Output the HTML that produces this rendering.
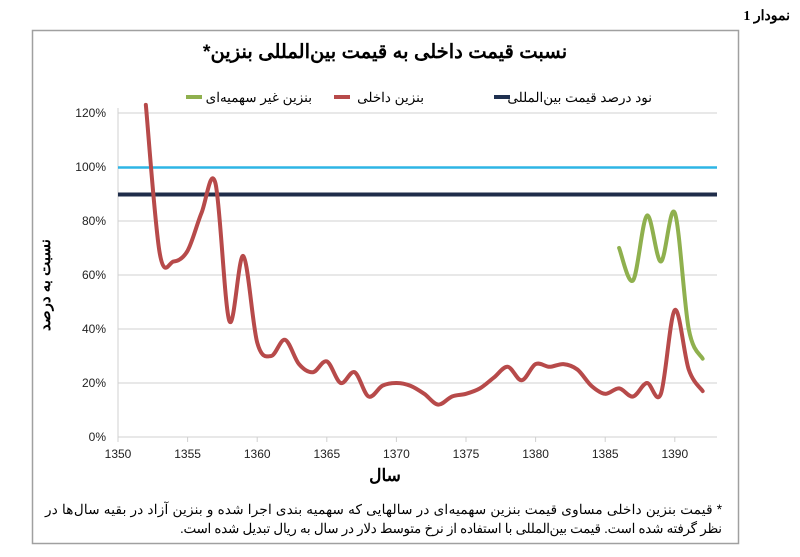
<!DOCTYPE html>
<html><head><meta charset="utf-8"><style>
body{margin:0;background:#fff;width:800px;height:557px;overflow:hidden}
svg{display:block}
text{font-family:"Liberation Sans","Noto Sans CJK SC",sans-serif}
</style></head><body>
<svg width="800" height="557" viewBox="0 0 800 557">
<text x="790" y="20" text-anchor="start" direction="rtl" style="font-family:'Liberation Serif','Noto Serif CJK SC',serif;font-weight:bold;font-size:14px">نمودار 1</text>
<rect x="32.5" y="30.5" width="706" height="513" fill="none" stroke="#a0a0a0" stroke-width="1.5"/>
<text x="385" y="58" text-anchor="middle" direction="rtl" font-size="19.5" font-weight="bold">نسبت قیمت داخلی به قیمت بین‌المللی بنزین*</text>
<g font-size="13.5" direction="rtl" text-anchor="start">
<line x1="494" y1="97" x2="510" y2="97" stroke="#1f3050" stroke-width="4"/>
<text x="652" y="102">نود درصد قیمت بین‌المللی</text>
<line x1="334" y1="97" x2="350" y2="97" stroke="#b74a4a" stroke-width="4"/>
<text x="424" y="102">بنزین داخلی</text>
<line x1="186" y1="97" x2="202" y2="97" stroke="#8fb04e" stroke-width="4"/>
<text x="312" y="102">بنزین غیر سهمیه‌ای</text>
</g>
<g stroke="#d0d0d0" stroke-width="1">
<line x1="118" y1="113" x2="717" y2="113"/><line x1="118" y1="167" x2="717" y2="167"/>
<line x1="118" y1="221" x2="717" y2="221"/><line x1="118" y1="275" x2="717" y2="275"/>
<line x1="118" y1="329" x2="717" y2="329"/><line x1="118" y1="383" x2="717" y2="383"/>
<line x1="118" y1="437" x2="717" y2="437"/><line x1="118" y1="108" x2="118" y2="437"/>
</g>
<g stroke="#d0d0d0" id="ticks"></g>
<g font-size="12" fill="#222" text-anchor="end">
<text x="106" y="117">120%</text><text x="106" y="171">100%</text><text x="106" y="225">80%</text>
<text x="106" y="279">60%</text><text x="106" y="333">40%</text><text x="106" y="387">20%</text><text x="106" y="441">0%</text>
</g>
<g font-size="12" fill="#222" text-anchor="middle" id="xl"></g>
<line x1="118" y1="167.5" x2="717" y2="167.5" stroke="#2eb5e5" stroke-width="2.5"/>
<line x1="118" y1="194.5" x2="717" y2="194.5" stroke="#1f2d4a" stroke-width="4"/>
<path id="red" fill="none" stroke="#b74a4a" stroke-width="4" stroke-linejoin="round" stroke-linecap="round"/>
<path id="green" fill="none" stroke="#8fb04e" stroke-width="4" stroke-linejoin="round" stroke-linecap="round"/>
<text x="385" y="481" text-anchor="middle" font-size="17" font-weight="bold">سال</text>
<text transform="translate(50,285) rotate(-90)" text-anchor="middle" font-size="15" font-weight="bold" direction="rtl">نسبت به درصد</text>
<g font-size="13.5" direction="rtl" text-anchor="start">
<text x="722" y="514" textLength="677" lengthAdjust="spacing">* قیمت بنزین داخلی مساوی قیمت بنزین سهمیه‌ای در سالهایی که سهمیه بندی اجرا شده و بنزین آزاد در بقیه سال‌ها در</text>
<text x="722" y="533" textLength="542" lengthAdjust="spacing">نظر گرفته شده است. قیمت بین‌المللی  با استفاده از نرخ متوسط دلار در سال به ریال تبدیل شده است.</text>
</g>
</svg>
<script>
var X=function(y){return 118+(y-1350)*13.92},Y=function(v){return 437-v*2.7};
var t='',l='';for(var y=1350;y<=1390;y+=5){t+='<line x1="'+X(y)+'" y1="437" x2="'+X(y)+'" y2="442"/>';l+='<text x="'+X(y)+'" y="458">'+y+'</text>';}
document.getElementById('ticks').innerHTML=t;document.getElementById('xl').innerHTML=l;
function path(s,d){var p=d.map(function(v,i){return[X(s+i),Y(v)]});var r='M'+p[0][0]+','+p[0][1];
for(var i=0;i<p.length-1;i++){var a=p[i-1]||p[i],b=p[i],c=p[i+1],e=p[i+2]||c,k=6;
r+=' C'+(b[0]+(c[0]-a[0])/k)+','+(b[1]+(c[1]-a[1])/k)+' '+(c[0]-(e[0]-b[0])/k)+','+(c[1]-(e[1]-b[1])/k)+' '+c[0]+','+c[1];}return r;}
document.getElementById('red').setAttribute('d',path(1352,[123,68,65,69,83,94,43,67,35,30,36,27,24,28,20,24,15,19,20,19,16,12,15,16,18,22,26,21,27,26,27,25,19,16,18,15,20,16,47,25,17]));
document.getElementById('green').setAttribute('d',path(1386,[70,58,82,65,83,40,29]));
</script>
</body></html>
